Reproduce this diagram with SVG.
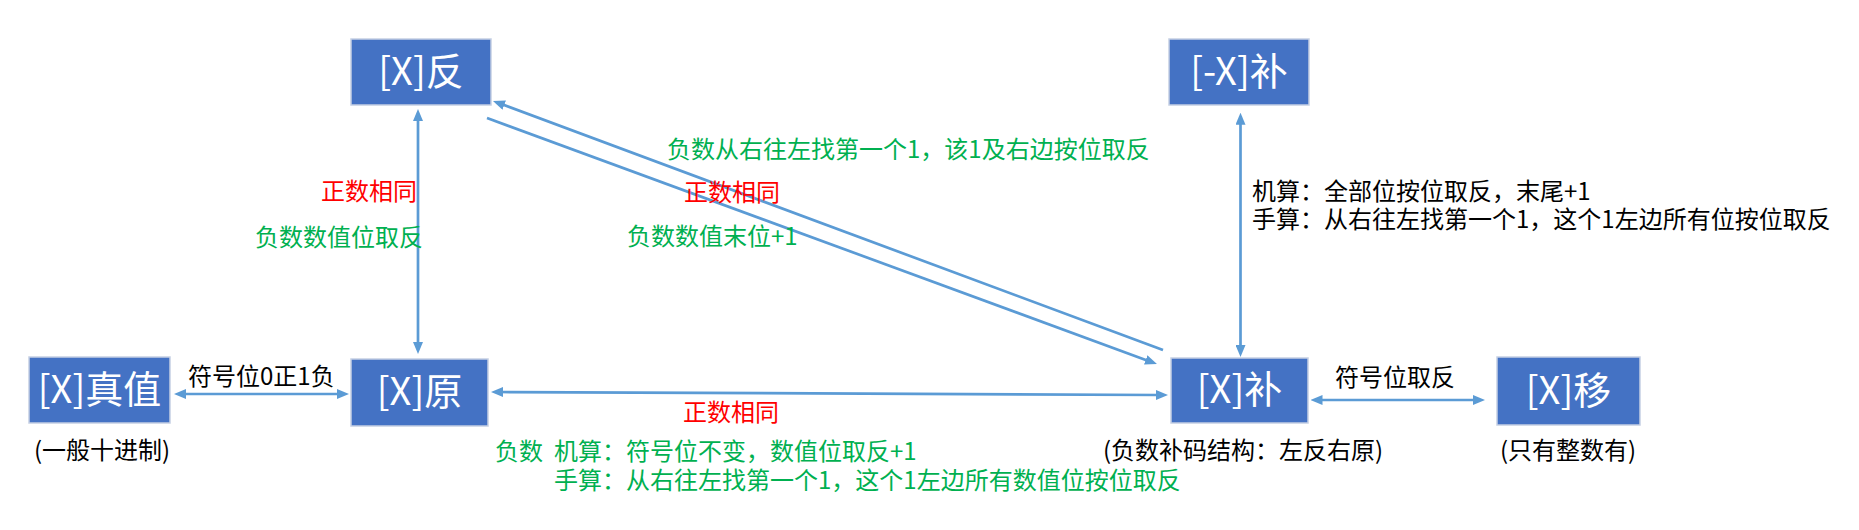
<svg xmlns="http://www.w3.org/2000/svg" width="1859" height="530" viewBox="0 0 1859 530">
<style>
  .box { fill: #4472C4; stroke: #C5CFE3; stroke-width: 1.5; }
  .bt { fill: #FFFFFF; font-family: "Noto Sans CJK SC", "Liberation Sans", sans-serif; font-size: 38px; text-anchor: middle; }
  .t { font-family: "Noto Sans CJK SC", "Liberation Sans", sans-serif; font-size: 24px; }
  .k { fill: #000000; }
  .g { fill: #00B050; }
  .r { fill: #FF0000; }
  .c { stroke: #5B9BD5; stroke-width: 2.7; fill: none; }
</style>
<defs>
  <marker id="ah" markerUnits="userSpaceOnUse" markerWidth="12" markerHeight="10" refX="3" refY="5" orient="auto-start-reverse" viewBox="0 0 12 10">
    <path d="M0,0 L12,5 L0,10 z" fill="#5B9BD5"/>
  </marker>
</defs>
<rect width="1859" height="530" fill="#FFFFFF"/>

<g id="connectors">
  <line class="c" x1="418" y1="118" x2="418" y2="345" marker-start="url(#ah)" marker-end="url(#ah)"/>
  <line class="c" x1="1163" y1="350" x2="501.4" y2="104.1" marker-end="url(#ah)"/>
  <line class="c" x1="487" y1="118" x2="1148.5" y2="360.9" marker-end="url(#ah)"/>
  <line class="c" x1="183" y1="394" x2="340" y2="394" marker-start="url(#ah)" marker-end="url(#ah)"/>
  <line class="c" x1="500" y1="392" x2="1159" y2="395" marker-start="url(#ah)" marker-end="url(#ah)"/>
  <line class="c" x1="1240.5" y1="121.7" x2="1240.5" y2="348" marker-start="url(#ah)" marker-end="url(#ah)"/>
  <line class="c" x1="1319.5" y1="400" x2="1476" y2="400" marker-start="url(#ah)" marker-end="url(#ah)"/>
</g>

<g id="node-fan">
  <rect class="box" x="351" y="39" width="140" height="66"/>
  <text class="bt" x="421" y="85">[X]反</text>
</g>
<g id="node-negbu">
  <rect class="box" x="1169" y="39" width="140" height="66"/>
  <text class="bt" x="1239" y="85">[-X]补</text>
</g>
<g id="node-zhenzhi">
  <rect class="box" x="29" y="357" width="141" height="66"/>
  <text class="bt" x="99.5" y="403">[X]真值</text>
</g>
<g id="node-yuan">
  <rect class="box" x="351" y="359" width="137" height="67"/>
  <text class="bt" x="419.5" y="405">[X]原</text>
</g>
<g id="node-bu">
  <rect class="box" x="1171" y="358" width="137" height="65"/>
  <text class="bt" x="1239.5" y="403">[X]补</text>
</g>
<g id="node-yi">
  <rect class="box" x="1497" y="357" width="143" height="68"/>
  <text class="bt" x="1568.5" y="404">[X]移</text>
</g>

<g id="labels">
  <text class="t r" x="321" y="200">正数相同</text>
  <text class="t g" x="255" y="246">负数数值位取反</text>
  <text class="t g" x="667" y="158">负数从右往左找第一个1，该1及右边按位取反</text>
  <text class="t r" x="684" y="201">正数相同</text>
  <text class="t g" x="627" y="245">负数数值末位+1</text>
  <text class="t k" x="1252" y="200">机算：全部位按位取反，末尾+1</text>
  <text class="t k" x="1252" y="228">手算：从右往左找第一个1，这个1左边所有位按位取反</text>
  <text class="t k" x="188" y="385">符号位0正1负</text>
  <text class="t k" x="1335" y="386">符号位取反</text>
  <text class="t k" x="34" y="459">(一般十进制)</text>
  <text class="t r" x="683" y="421">正数相同</text>
  <text class="t g" x="495" y="460">负数</text>
  <text class="t g" x="554" y="460">机算：符号位不变，数值位取反+1</text>
  <text class="t g" x="554" y="489">手算：从右往左找第一个1，这个1左边所有数值位按位取反</text>
  <text class="t k" x="1103" y="459">(负数补码结构：左反右原)</text>
  <text class="t k" x="1500" y="459">(只有整数有)</text>
</g>
</svg>
